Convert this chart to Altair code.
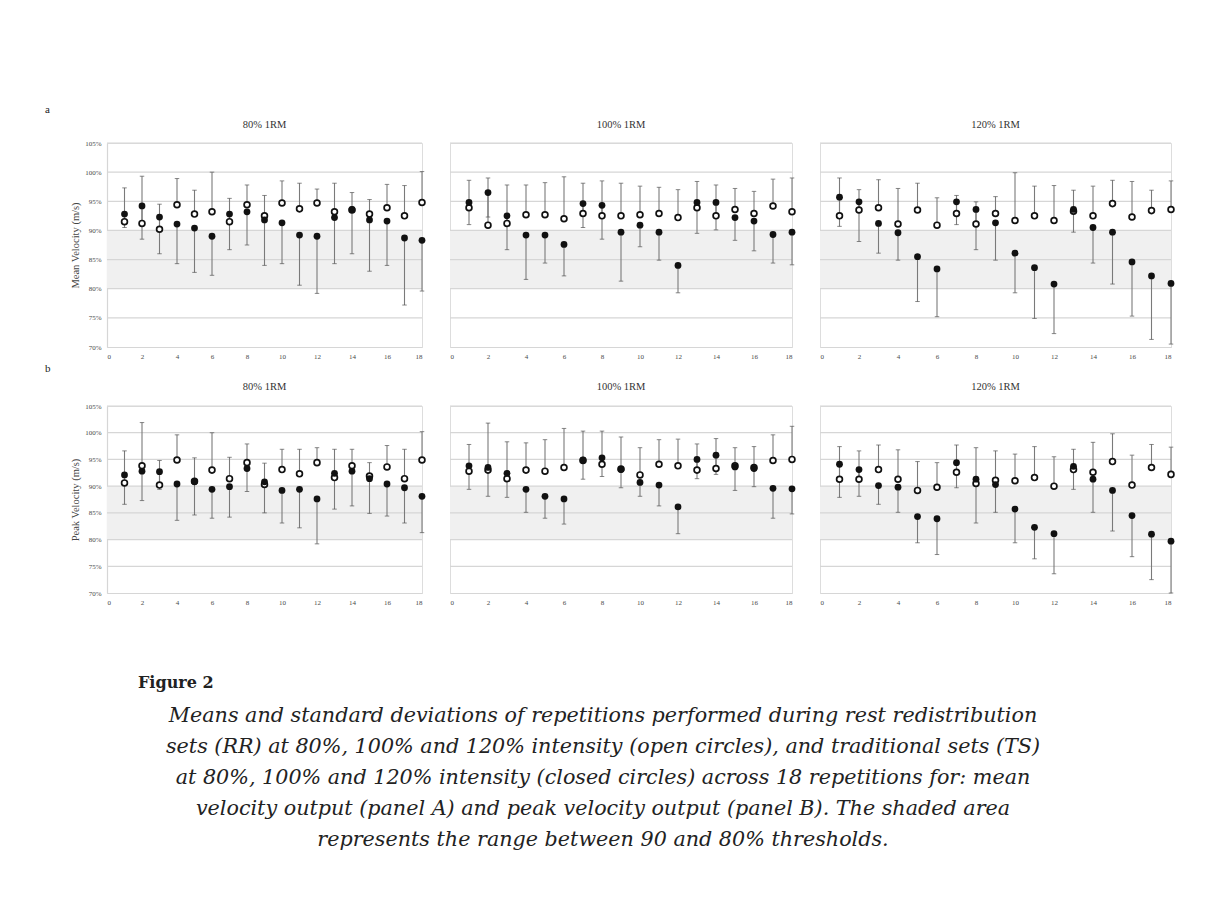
import altair as alt
import pandas as pd

reps = list(range(1, 19))
panel_titles = ["80% 1RM", "100% 1RM", "120% 1RM"]
row_labels = ["a", "b"]
y_titles = ["Mean Velocity (m/s)", "Peak Velocity (m/s)"]
x_ticks = [0, 2, 4, 6, 8, 10, 12, 14, 16, 18]
y_ticks = [70, 75, 80, 85, 90, 95, 100, 105]
band_range = [80, 90]

# ---- Panel a: mean velocity (% of first rep) ----
a80_rr = [91.5, 91.2, 90.2, 94.4, 92.8, 93.2, 91.5, 94.4, 92.5, 94.7, 93.7, 94.7, 93.2, 93.5, 92.8, 93.9, 92.5, 94.8]
a80_rr_sd = [5.8, 8.1, 4.3, 4.5, 4.1, 6.8, 4.0, 3.4, 3.5, 3.8, 4.4, 2.4, 4.9, 3.0, 2.5, 4.0, 5.2, 5.3]
a80_ts = [92.8, 94.2, 92.3, 91.1, 90.4, 89.0, 92.8, 93.2, 91.8, 91.3, 89.2, 89.0, 92.2, 93.6, 91.8, 91.6, 88.7, 88.3]
a80_ts_sd = [2.3, 5.7, 6.3, 6.8, 7.6, 6.7, 6.1, 5.7, 7.8, 7.0, 8.6, 9.8, 7.9, 7.6, 8.8, 7.6, 11.5, 8.7]

a100_rr = [93.9, 90.9, 91.2, 92.7, 92.7, 92.0, 92.9, 92.5, 92.5, 92.7, 92.9, 92.2, 93.9, 92.5, 93.6, 92.9, 94.2, 93.2]
a100_rr_sd = [4.7, 8.1, 6.6, 5.1, 5.5, 7.2, 5.2, 6.0, 5.6, 4.9, 4.5, 4.8, 4.5, 5.3, 3.6, 3.8, 4.6, 5.8]
a100_ts = [94.8, 96.5, 92.5, 89.2, 89.2, 87.6, 94.6, 94.3, 89.7, 90.9, 89.7, 84.0, 94.8, 94.8, 92.2, 91.6, 89.3, 89.7]
a100_ts_sd = [3.8, 4.2, 5.8, 7.6, 4.8, 5.4, 4.1, 5.8, 8.4, 3.7, 4.8, 4.7, 5.3, 4.7, 3.9, 5.1, 4.9, 5.6]

a120_rr = [92.5, 93.5, 93.9, 91.1, 93.5, 90.9, 92.9, 91.1, 92.9, 91.7, 92.5, 91.7, 93.3, 92.5, 94.6, 92.3, 93.4, 93.6]
a120_rr_sd = [6.5, 3.5, 4.8, 6.1, 4.6, 4.7, 3.1, 3.8, 2.9, 8.2, 5.1, 6.0, 3.6, 5.1, 4.0, 6.1, 3.5, 4.9]
a120_ts = [95.7, 94.9, 91.2, 89.6, 85.5, 83.4, 94.9, 93.6, 91.3, 86.1, 83.6, 80.8, 93.6, 90.5, 89.7, 84.6, 82.2, 80.9]
a120_ts_sd = [5.0, 6.8, 5.1, 4.7, 7.7, 8.2, 3.9, 6.9, 6.4, 6.8, 8.7, 8.5, 3.9, 6.1, 8.9, 9.3, 10.9, 10.4]

# ---- Panel b: peak velocity (% of first rep) ----
b80_rr = [90.6, 93.8, 90.2, 94.9, 90.9, 93.0, 91.4, 94.4, 90.3, 93.1, 92.3, 94.4, 91.6, 93.8, 91.9, 93.6, 91.4, 94.9]
b80_rr_sd = [6.0, 8.1, 4.6, 4.7, 4.4, 7.0, 4.0, 3.5, 4.0, 3.8, 4.6, 2.8, 5.3, 3.1, 2.5, 4.0, 5.5, 5.3]
b80_ts = [92.1, 92.8, 92.7, 90.4, 90.8, 89.4, 89.9, 93.3, 90.8, 89.2, 89.4, 87.6, 92.4, 92.8, 91.4, 90.4, 89.7, 88.1]
b80_ts_sd = [5.5, 5.5, 3.3, 6.8, 6.2, 5.4, 5.7, 4.3, 5.8, 6.1, 7.2, 8.4, 6.7, 6.5, 6.5, 6.0, 6.6, 6.8]

b100_rr = [92.8, 93.0, 91.4, 93.0, 92.8, 93.5, 94.8, 94.1, 93.2, 92.1, 94.1, 93.8, 93.0, 93.3, 93.8, 93.5, 94.8, 95.0]
b100_rr_sd = [5.0, 8.8, 6.9, 5.1, 5.9, 7.3, 5.5, 6.2, 6.0, 5.1, 4.6, 5.0, 4.9, 5.6, 3.4, 3.9, 4.8, 6.2]
b100_ts = [93.8, 93.5, 92.4, 89.4, 88.1, 87.6, 94.9, 95.3, 93.1, 90.7, 90.2, 86.1, 95.0, 95.8, 93.6, 93.3, 89.6, 89.5]
b100_ts_sd = [4.4, 5.4, 4.5, 4.3, 4.1, 4.7, 3.6, 3.5, 3.4, 2.6, 3.9, 5.0, 3.6, 3.6, 4.4, 3.4, 5.6, 4.7]

b120_rr = [91.3, 91.3, 93.1, 91.3, 89.2, 89.8, 92.6, 90.5, 91.1, 91.0, 91.6, 90.0, 93.1, 92.6, 94.6, 90.2, 93.5, 92.2]
b120_rr_sd = [6.1, 5.3, 4.6, 5.5, 5.4, 4.6, 5.1, 6.7, 5.5, 5.0, 5.8, 5.5, 3.8, 5.6, 5.2, 5.6, 4.3, 5.1]
b120_ts = [94.1, 93.1, 90.1, 89.8, 84.3, 83.9, 94.4, 91.3, 90.3, 85.7, 82.3, 81.1, 93.7, 91.3, 89.2, 84.5, 81.0, 79.7]
b120_ts_sd = [6.2, 5.0, 3.5, 4.7, 4.9, 6.7, 4.7, 8.2, 5.2, 6.3, 5.9, 7.5, 4.3, 6.2, 7.6, 7.7, 8.5, 9.7]

caption_head = "Figure 2"
caption_lines = [
    "Means and standard deviations of repetitions performed during rest redistribution",
    "sets (RR) at 80%, 100% and 120% intensity (open circles), and traditional sets (TS)",
    "at 80%, 100% and 120% intensity (closed circles) across 18 repetitions for: mean",
    "velocity output (panel A) and peak velocity output (panel B). The shaded area",
    "represents the range between 90 and 80% thresholds.",
]

SERIF = "Liberation Serif"
widths = [315, 342, 351]
heights = [204, 187]
title_dy = [-18, -19]
label_dy = [-33, -37]
GRID = "#d6d6d6"
BAR = "#7a7a7a"


def panel(rr, rr_sd, ts, ts_sd, title, W, H, tdy, ldy, ytitle=None, rowlab=None, caption=False):
    df = pd.DataFrame({"rep": reps, "rr": rr, "rr_sd": rr_sd, "ts": ts, "ts_sd": ts_sd})
    df["rr_hi"] = df["rr"] + df["rr_sd"]
    df["ts_lo"] = df["ts"] - df["ts_sd"]

    xsc = alt.Scale(domain=[0, 18], nice=False, zero=False)
    ysc = alt.Scale(domain=[70, 105], nice=False, zero=False)
    xax = alt.Axis(values=x_ticks, grid=False, ticks=False, domain=True, domainColor=GRID,
                   domainWidth=1.2, labelFont=SERIF, labelFontSize=7, labelColor="#4a4a4a",
                   labelPadding=5, title=None)
    if ytitle:
        yax = alt.Axis(values=y_ticks, grid=False, ticks=False, domain=True, domainColor=GRID,
                       domainWidth=1.2, labelFont=SERIF, labelFontSize=7, labelColor="#4a4a4a",
                       labelPadding=6, labelExpr="datum.value + '%'", title=ytitle,
                       titleFont=SERIF, titleFontSize=10.5, titleFontWeight="normal",
                       titleColor="#444", titlePadding=4)
    else:
        yax = None

    band = alt.Chart(pd.DataFrame({"lo": [band_range[0]], "hi": [band_range[1]]})).mark_rect(
        color="#f0f0f0").encode(
        y=alt.Y("lo:Q", scale=ysc, axis=yax), y2="hi:Q",
        x=alt.value(0), x2=alt.value(W))
    grid = alt.Chart(pd.DataFrame({"v": y_ticks[1:]})).mark_rule(
        color=GRID, strokeWidth=1.2).encode(
        y=alt.Y("v:Q", scale=ysc, axis=yax), x=alt.value(0), x2=alt.value(W))

    base = alt.Chart(df)
    X = alt.X("rep:Q", scale=xsc, axis=xax)
    rr_bar = base.mark_rule(color=BAR, strokeWidth=1.1).encode(
        x=X, y=alt.Y("rr:Q", scale=ysc, axis=yax), y2="rr_hi:Q")
    rr_cap = base.mark_tick(orient="horizontal", size=4.5, thickness=1, color="#555").encode(
        x=X, y=alt.Y("rr_hi:Q", scale=ysc, axis=yax))
    ts_bar = base.mark_rule(color=BAR, strokeWidth=1.1).encode(
        x=X, y=alt.Y("ts_lo:Q", scale=ysc, axis=yax), y2="ts:Q")
    ts_cap = base.mark_tick(orient="horizontal", size=4.5, thickness=1, color="#555").encode(
        x=X, y=alt.Y("ts_lo:Q", scale=ysc, axis=yax))
    open_pts = base.mark_point(shape="circle", filled=True, fill="white", stroke="#111",
                               strokeWidth=1.7, size=34, opacity=1).encode(
        x=X, y=alt.Y("rr:Q", scale=ysc, axis=yax))
    closed_pts = base.mark_circle(color="#111", size=46, opacity=1).encode(
        x=X, y=alt.Y("ts:Q", scale=ysc, axis=yax))

    ttl = alt.Chart(pd.DataFrame({"t": [title]})).mark_text(
        align="center", baseline="middle", font=SERIF, fontSize=10.5, color="#333").encode(
        text="t:N", x=alt.value(W / 2), y=alt.value(tdy))

    layers = [band, grid, rr_bar, ts_bar, rr_cap, ts_cap, open_pts, closed_pts, ttl]

    if rowlab:
        lab = alt.Chart(pd.DataFrame({"t": [rowlab]})).mark_text(
            align="left", baseline="middle", font=SERIF, fontSize=11, color="#222").encode(
            text="t:N", x=alt.value(-62), y=alt.value(ldy))
        layers.append(lab)
    if caption:
        head = alt.Chart(pd.DataFrame({"t": [caption_head]})).mark_text(
            align="left", baseline="middle", font="DejaVu Serif", fontSize=16,
            fontWeight="bold", color="#222").encode(
            text="t:N", x=alt.value(31), y=alt.value(277))
        body = alt.Chart(pd.DataFrame({"t": [0]})).mark_text(
            text=caption_lines, align="center", baseline="middle", font="DejaVu Serif",
            fontSize=20.7, fontStyle="italic", lineHeight=31, color="#222").encode(
            x=alt.value(496), y=alt.value(310))
        layers += [head, body]

    return alt.layer(*layers).properties(width=W, height=H)


data = [
    [(a80_rr, a80_rr_sd, a80_ts, a80_ts_sd), (a100_rr, a100_rr_sd, a100_ts, a100_ts_sd),
     (a120_rr, a120_rr_sd, a120_ts, a120_ts_sd)],
    [(b80_rr, b80_rr_sd, b80_ts, b80_ts_sd), (b100_rr, b100_rr_sd, b100_ts, b100_ts_sd),
     (b120_rr, b120_rr_sd, b120_ts, b120_ts_sd)],
]

panels = []
for r in range(2):
    for c in range(3):
        rr, rr_sd, ts, ts_sd = data[r][c]
        panels.append(panel(
            rr, rr_sd, ts, ts_sd, panel_titles[c], widths[c], heights[r], title_dy[r], label_dy[r],
            ytitle=y_titles[r] if c == 0 else None,
            rowlab=row_labels[r] if c == 0 else None,
            caption=(r == 1 and c == 0)))

chart = alt.concat(*panels, columns=3, spacing={"row": 59, "column": 28}, bounds="flush").properties(
    padding={"left": 36, "top": 95, "right": 5, "bottom": 5}
).configure_view(stroke=None).configure(background="white")

chart.save("out.html", embed_options={"renderer": "svg", "actions": False})
